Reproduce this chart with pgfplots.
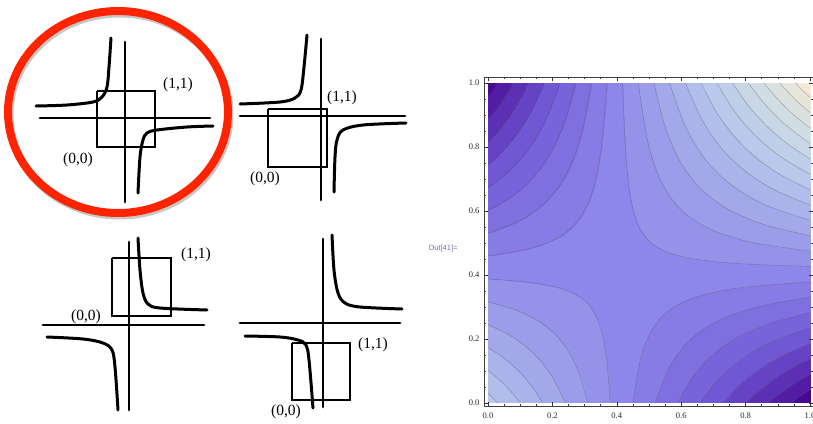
\documentclass[border=0pt]{standalone}
\usepackage{fontspec}
\setmainfont{Liberation Serif}
\setsansfont{Liberation Sans}
\usepackage{pgfplots}
\pgfplotsset{compat=1.18}
\definecolor{circred}{RGB}{255,36,0}
\definecolor{outcol}{RGB}{105,112,175}
\tikzset{
  sk/.style={black, line width=2.8pt, line cap=round, mark=none},
  sq/.style={black, line width=2.5pt, line join=miter, mark=none},
  hy/.style={black, line width=3pt, line cap=round, smooth, tension=0.55, mark=none},
  lab/.style={font=\fontsize{15.5}{17}\selectfont, inner sep=0pt},
  cl/.style={draw=black!70, draw opacity=0.35, line width=0.6pt, smooth, tension=0.5, mark=none, fill=none}}
\pgfplotsset{table/clt/.style={x index=0, y index=1, z index=1, header=false, row sep=\\}}
\begin{document}
\begin{tikzpicture}
\useasboundingbox (0,0) rectangle (813pt,423pt);
% ---------------- hand sketches ----------------
\begin{axis}[at={(0pt,0pt)}, anchor=south west, scale only axis,
  width=813pt, height=423pt, xmin=0, xmax=813, ymin=0, ymax=423,
  y dir=reverse, hide axis, clip=false]
% sketch 1 (top left)
\addplot[sk] coordinates {(125,42) (125,202)};
\addplot[sk] coordinates {(40,118) (210,118)};
\addplot[sq] coordinates {(97,91) (155,91) (155,147) (97,147) (97,91)};
\addplot[hy] coordinates {(36,106) (67,105) (93,102) (102,97) (107,87) (109,67) (111,38)};
\addplot[hy] coordinates {(213,126) (187,127) (157,130) (147,133) (143,140) (140,157) (138,193)};
\node[lab] at (axis cs:178,85) {(1,1)};
\node[lab] at (axis cs:78,160) {(0,0)};
% sketch 2 (top right)
\addplot[sk] coordinates {(321,39) (321,200)};
\addplot[sk] coordinates {(240,116) (405,116)};
\addplot[sq] coordinates {(268,109) (327,109) (327,167) (268,167) (268,109)};
\addplot[hy] coordinates {(240,104) (280,102) (295,98) (301,90) (304,67) (307,35)};
\addplot[hy] coordinates {(406,123) (363,125) (343,130) (337,140) (335,157) (334,192)};
\node[lab] at (axis cs:342,98) {(1,1)};
\node[lab] at (axis cs:265,179) {(0,0)};
% sketch 3 (bottom left)
\addplot[sk] coordinates {(129,242) (129,410)};
\addplot[sk] coordinates {(43,325) (204,325)};
\addplot[sq] coordinates {(112,258) (171,258) (171,316) (112,316) (112,258)};
\addplot[hy] coordinates {(138,238) (140,270) (143,293) (148,304) (160,308) (207,310)};
\addplot[hy] coordinates {(47,337) (83,339) (103,343) (112,350) (115,367) (118,410)};
\node[lab] at (axis cs:196,255) {(1,1)};
\node[lab] at (axis cs:86,317) {(0,0)};
% sketch 4 (bottom right)
\addplot[sk] coordinates {(323,239) (323,407)};
\addplot[sk] coordinates {(240,323) (400,323)};
\addplot[sq] coordinates {(292,343) (350,343) (350,400) (292,400) (292,343)};
\addplot[hy] coordinates {(332,235) (334,270) (338,293) (345,303) (360,307) (402,309)};
\addplot[hy] coordinates {(245,336) (280,337) (298,340) (306,345) (309,360) (313,408)};
\node[lab] at (axis cs:373,345) {(1,1)};
\node[lab] at (axis cs:286,412) {(0,0)};
% red circle
\draw[black, opacity=0.22, line width=8pt] (axis cs:119.5,114.5) ellipse [x radius=110pt, y radius=101pt];
\draw[circred, line width=8pt] (axis cs:118,112) ellipse [x radius=110pt, y radius=101pt];
\node[font=\sffamily\fontsize{7.5}{8}\selectfont, text=outcol, inner sep=0pt] at (axis cs:443,249) {Out[41]=};
\end{axis}
% ---------------- contour plot ----------------
\begin{axis}[at={(484pt,17pt)}, anchor=south west, scale only axis,
  width=329pt, height=329pt,
  xmin=-0.0124, xmax=1.0093, ymin=-0.0094, ymax=1.0188,
  view={0}{90}, axis on top,
  colormap={mma}{rgb255(0)=(72,8,150); rgb255(42)=(112,88,212); rgb255(83)=(142,135,235);
    rgb255(114)=(162,168,233); rgb255(146)=(185,200,235); rgb255(177)=(208,222,228); rgb255(208)=(242,232,212)},
  point meta min=0, point meta max=20.8,
  xtick={0,0.2,0.4,0.6,0.8,1}, ytick={0,0.2,0.4,0.6,0.8,1},
  minor tick num=3,
  major tick length=4pt, minor tick length=2.3pt,
  axis line style={black!75, line width=0.6pt},
  tick style={black!80, line width=0.5pt},
  tick label style={font=\fontsize{8.5}{9}\selectfont, text=black!85},
  /pgf/number format/assume math mode=true,
  xticklabel style={yshift=-3pt, /pgf/number format/.cd, fixed, fixed zerofill, precision=1},
  yticklabel style={xshift=-1pt, /pgf/number format/.cd, fixed, fixed zerofill, precision=1},
  xtick pos=both, ytick pos=both,
  xticklabel pos=lower, yticklabel pos=left,
  ztick=\empty]
\addplot3[contour filled={levels={0.87,1.87,2.87,3.87,4.87,5.87,6.87,7.87,8.87,9.87,10.87,11.87,12.87,13.87,14.87,15.87,16.87,17.87,18.87,19.87}},
  mesh/rows=21, mesh/cols=21] coordinates {
(0,0,14.3) (0.05,0,13.585) (0.1,0,12.87) (0.15,0,12.155) (0.2,0,11.44) (0.25,0,10.725) (0.3,0,10.01) (0.35,0,9.295) (0.4,0,8.58) (0.45,0,7.865) (0.5,0,7.15) (0.55,0,6.435) (0.6,0,5.72) (0.65,0,5.005) (0.7,0,4.29) (0.75,0,3.575) (0.8,0,2.86) (0.85,0,2.145) (0.9,0,1.43) (0.95,0,0.715) (1,0,0)
(0,0.05,13.6) (0.05,0.05,12.972) (0.1,0.05,12.344) (0.15,0.05,11.716) (0.2,0.05,11.088) (0.25,0.05,10.46) (0.3,0.05,9.832) (0.35,0.05,9.204) (0.4,0.05,8.576) (0.45,0.05,7.948) (0.5,0.05,7.32) (0.55,0.05,6.692) (0.6,0.05,6.064) (0.65,0.05,5.436) (0.7,0.05,4.808) (0.75,0.05,4.18) (0.8,0.05,3.552) (0.85,0.05,2.924) (0.9,0.05,2.296) (0.95,0.05,1.668) (1,0.05,1.04)
(0,0.1,12.9) (0.05,0.1,12.359) (0.1,0.1,11.818) (0.15,0.1,11.277) (0.2,0.1,10.736) (0.25,0.1,10.195) (0.3,0.1,9.654) (0.35,0.1,9.113) (0.4,0.1,8.572) (0.45,0.1,8.031) (0.5,0.1,7.49) (0.55,0.1,6.949) (0.6,0.1,6.408) (0.65,0.1,5.867) (0.7,0.1,5.326) (0.75,0.1,4.785) (0.8,0.1,4.244) (0.85,0.1,3.703) (0.9,0.1,3.162) (0.95,0.1,2.621) (1,0.1,2.08)
(0,0.15,12.2) (0.05,0.15,11.746) (0.1,0.15,11.292) (0.15,0.15,10.838) (0.2,0.15,10.384) (0.25,0.15,9.93) (0.3,0.15,9.476) (0.35,0.15,9.022) (0.4,0.15,8.568) (0.45,0.15,8.114) (0.5,0.15,7.66) (0.55,0.15,7.206) (0.6,0.15,6.752) (0.65,0.15,6.298) (0.7,0.15,5.844) (0.75,0.15,5.39) (0.8,0.15,4.936) (0.85,0.15,4.482) (0.9,0.15,4.028) (0.95,0.15,3.574) (1,0.15,3.12)
(0,0.2,11.5) (0.05,0.2,11.133) (0.1,0.2,10.766) (0.15,0.2,10.399) (0.2,0.2,10.032) (0.25,0.2,9.665) (0.3,0.2,9.298) (0.35,0.2,8.931) (0.4,0.2,8.564) (0.45,0.2,8.197) (0.5,0.2,7.83) (0.55,0.2,7.463) (0.6,0.2,7.096) (0.65,0.2,6.729) (0.7,0.2,6.362) (0.75,0.2,5.995) (0.8,0.2,5.628) (0.85,0.2,5.261) (0.9,0.2,4.894) (0.95,0.2,4.527) (1,0.2,4.16)
(0,0.25,10.8) (0.05,0.25,10.52) (0.1,0.25,10.24) (0.15,0.25,9.96) (0.2,0.25,9.68) (0.25,0.25,9.4) (0.3,0.25,9.12) (0.35,0.25,8.84) (0.4,0.25,8.56) (0.45,0.25,8.28) (0.5,0.25,8.0) (0.55,0.25,7.72) (0.6,0.25,7.44) (0.65,0.25,7.16) (0.7,0.25,6.88) (0.75,0.25,6.6) (0.8,0.25,6.32) (0.85,0.25,6.04) (0.9,0.25,5.76) (0.95,0.25,5.48) (1,0.25,5.2)
(0,0.3,10.1) (0.05,0.3,9.907) (0.1,0.3,9.714) (0.15,0.3,9.521) (0.2,0.3,9.328) (0.25,0.3,9.135) (0.3,0.3,8.942) (0.35,0.3,8.749) (0.4,0.3,8.556) (0.45,0.3,8.363) (0.5,0.3,8.17) (0.55,0.3,7.977) (0.6,0.3,7.784) (0.65,0.3,7.591) (0.7,0.3,7.398) (0.75,0.3,7.205) (0.8,0.3,7.012) (0.85,0.3,6.819) (0.9,0.3,6.626) (0.95,0.3,6.433) (1,0.3,6.24)
(0,0.35,9.4) (0.05,0.35,9.294) (0.1,0.35,9.188) (0.15,0.35,9.082) (0.2,0.35,8.976) (0.25,0.35,8.87) (0.3,0.35,8.764) (0.35,0.35,8.658) (0.4,0.35,8.552) (0.45,0.35,8.446) (0.5,0.35,8.34) (0.55,0.35,8.234) (0.6,0.35,8.128) (0.65,0.35,8.022) (0.7,0.35,7.916) (0.75,0.35,7.81) (0.8,0.35,7.704) (0.85,0.35,7.598) (0.9,0.35,7.492) (0.95,0.35,7.386) (1,0.35,7.28)
(0,0.4,8.7) (0.05,0.4,8.681) (0.1,0.4,8.662) (0.15,0.4,8.643) (0.2,0.4,8.624) (0.25,0.4,8.605) (0.3,0.4,8.586) (0.35,0.4,8.567) (0.4,0.4,8.548) (0.45,0.4,8.529) (0.5,0.4,8.51) (0.55,0.4,8.491) (0.6,0.4,8.472) (0.65,0.4,8.453) (0.7,0.4,8.434) (0.75,0.4,8.415) (0.8,0.4,8.396) (0.85,0.4,8.377) (0.9,0.4,8.358) (0.95,0.4,8.339) (1,0.4,8.32)
(0,0.45,8.0) (0.05,0.45,8.068) (0.1,0.45,8.136) (0.15,0.45,8.204) (0.2,0.45,8.272) (0.25,0.45,8.34) (0.3,0.45,8.408) (0.35,0.45,8.476) (0.4,0.45,8.544) (0.45,0.45,8.612) (0.5,0.45,8.68) (0.55,0.45,8.748) (0.6,0.45,8.816) (0.65,0.45,8.884) (0.7,0.45,8.952) (0.75,0.45,9.02) (0.8,0.45,9.088) (0.85,0.45,9.156) (0.9,0.45,9.224) (0.95,0.45,9.292) (1,0.45,9.36)
(0,0.5,7.3) (0.05,0.5,7.455) (0.1,0.5,7.61) (0.15,0.5,7.765) (0.2,0.5,7.92) (0.25,0.5,8.075) (0.3,0.5,8.23) (0.35,0.5,8.385) (0.4,0.5,8.54) (0.45,0.5,8.695) (0.5,0.5,8.85) (0.55,0.5,9.005) (0.6,0.5,9.16) (0.65,0.5,9.315) (0.7,0.5,9.47) (0.75,0.5,9.625) (0.8,0.5,9.78) (0.85,0.5,9.935) (0.9,0.5,10.09) (0.95,0.5,10.245) (1,0.5,10.4)
(0,0.55,6.6) (0.05,0.55,6.842) (0.1,0.55,7.084) (0.15,0.55,7.326) (0.2,0.55,7.568) (0.25,0.55,7.81) (0.3,0.55,8.052) (0.35,0.55,8.294) (0.4,0.55,8.536) (0.45,0.55,8.778) (0.5,0.55,9.02) (0.55,0.55,9.262) (0.6,0.55,9.504) (0.65,0.55,9.746) (0.7,0.55,9.988) (0.75,0.55,10.23) (0.8,0.55,10.472) (0.85,0.55,10.714) (0.9,0.55,10.956) (0.95,0.55,11.198) (1,0.55,11.44)
(0,0.6,5.9) (0.05,0.6,6.229) (0.1,0.6,6.558) (0.15,0.6,6.887) (0.2,0.6,7.216) (0.25,0.6,7.545) (0.3,0.6,7.874) (0.35,0.6,8.203) (0.4,0.6,8.532) (0.45,0.6,8.861) (0.5,0.6,9.19) (0.55,0.6,9.519) (0.6,0.6,9.848) (0.65,0.6,10.177) (0.7,0.6,10.506) (0.75,0.6,10.835) (0.8,0.6,11.164) (0.85,0.6,11.493) (0.9,0.6,11.822) (0.95,0.6,12.151) (1,0.6,12.48)
(0,0.65,5.2) (0.05,0.65,5.616) (0.1,0.65,6.032) (0.15,0.65,6.448) (0.2,0.65,6.864) (0.25,0.65,7.28) (0.3,0.65,7.696) (0.35,0.65,8.112) (0.4,0.65,8.528) (0.45,0.65,8.944) (0.5,0.65,9.36) (0.55,0.65,9.776) (0.6,0.65,10.192) (0.65,0.65,10.608) (0.7,0.65,11.024) (0.75,0.65,11.44) (0.8,0.65,11.856) (0.85,0.65,12.272) (0.9,0.65,12.688) (0.95,0.65,13.104) (1,0.65,13.52)
(0,0.7,4.5) (0.05,0.7,5.003) (0.1,0.7,5.506) (0.15,0.7,6.009) (0.2,0.7,6.512) (0.25,0.7,7.015) (0.3,0.7,7.518) (0.35,0.7,8.021) (0.4,0.7,8.524) (0.45,0.7,9.027) (0.5,0.7,9.53) (0.55,0.7,10.033) (0.6,0.7,10.536) (0.65,0.7,11.039) (0.7,0.7,11.542) (0.75,0.7,12.045) (0.8,0.7,12.548) (0.85,0.7,13.051) (0.9,0.7,13.554) (0.95,0.7,14.057) (1,0.7,14.56)
(0,0.75,3.8) (0.05,0.75,4.39) (0.1,0.75,4.98) (0.15,0.75,5.57) (0.2,0.75,6.16) (0.25,0.75,6.75) (0.3,0.75,7.34) (0.35,0.75,7.93) (0.4,0.75,8.52) (0.45,0.75,9.11) (0.5,0.75,9.7) (0.55,0.75,10.29) (0.6,0.75,10.88) (0.65,0.75,11.47) (0.7,0.75,12.06) (0.75,0.75,12.65) (0.8,0.75,13.24) (0.85,0.75,13.83) (0.9,0.75,14.42) (0.95,0.75,15.01) (1,0.75,15.6)
(0,0.8,3.1) (0.05,0.8,3.777) (0.1,0.8,4.454) (0.15,0.8,5.131) (0.2,0.8,5.808) (0.25,0.8,6.485) (0.3,0.8,7.162) (0.35,0.8,7.839) (0.4,0.8,8.516) (0.45,0.8,9.193) (0.5,0.8,9.87) (0.55,0.8,10.547) (0.6,0.8,11.224) (0.65,0.8,11.901) (0.7,0.8,12.578) (0.75,0.8,13.255) (0.8,0.8,13.932) (0.85,0.8,14.609) (0.9,0.8,15.286) (0.95,0.8,15.963) (1,0.8,16.64)
(0,0.85,2.4) (0.05,0.85,3.164) (0.1,0.85,3.928) (0.15,0.85,4.692) (0.2,0.85,5.456) (0.25,0.85,6.22) (0.3,0.85,6.984) (0.35,0.85,7.748) (0.4,0.85,8.512) (0.45,0.85,9.276) (0.5,0.85,10.04) (0.55,0.85,10.804) (0.6,0.85,11.568) (0.65,0.85,12.332) (0.7,0.85,13.096) (0.75,0.85,13.86) (0.8,0.85,14.624) (0.85,0.85,15.388) (0.9,0.85,16.152) (0.95,0.85,16.916) (1,0.85,17.68)
(0,0.9,1.7) (0.05,0.9,2.551) (0.1,0.9,3.402) (0.15,0.9,4.253) (0.2,0.9,5.104) (0.25,0.9,5.955) (0.3,0.9,6.806) (0.35,0.9,7.657) (0.4,0.9,8.508) (0.45,0.9,9.359) (0.5,0.9,10.21) (0.55,0.9,11.061) (0.6,0.9,11.912) (0.65,0.9,12.763) (0.7,0.9,13.614) (0.75,0.9,14.465) (0.8,0.9,15.316) (0.85,0.9,16.167) (0.9,0.9,17.018) (0.95,0.9,17.869) (1,0.9,18.72)
(0,0.95,1.0) (0.05,0.95,1.938) (0.1,0.95,2.876) (0.15,0.95,3.814) (0.2,0.95,4.752) (0.25,0.95,5.69) (0.3,0.95,6.628) (0.35,0.95,7.566) (0.4,0.95,8.504) (0.45,0.95,9.442) (0.5,0.95,10.38) (0.55,0.95,11.318) (0.6,0.95,12.256) (0.65,0.95,13.194) (0.7,0.95,14.132) (0.75,0.95,15.07) (0.8,0.95,16.008) (0.85,0.95,16.946) (0.9,0.95,17.884) (0.95,0.95,18.822) (1,0.95,19.76)
(0,1,0.3) (0.05,1,1.325) (0.1,1,2.35) (0.15,1,3.375) (0.2,1,4.4) (0.25,1,5.425) (0.3,1,6.45) (0.35,1,7.475) (0.4,1,8.5) (0.45,1,9.525) (0.5,1,10.55) (0.55,1,11.575) (0.6,1,12.6) (0.65,1,13.625) (0.7,1,14.65) (0.75,1,15.675) (0.8,1,16.7) (0.85,1,17.725) (0.9,1,18.75) (0.95,1,19.775) (1,1,20.8)
};
% contour lines (level curves)
\addplot3[cl] table[clt] {0.0278 1.0\\ 0.0139 0.9789\\ 0 0.9593\\};
\addplot3[cl] table[clt] {0.9392 0\\ 0.9688 0.0215\\ 1.0 0.0418\\};
\addplot3[cl] table[clt] {0.0766 1.0\\ 0.0528 0.9599\\ 0.0273 0.9226\\ 0 0.8878\\};
\addplot3[cl] table[clt] {0.8692 0\\ 0.9093 0.0325\\ 0.9528 0.0624\\ 1.0 0.0899\\};
\addplot3[cl] table[clt] {0.1254 1.0\\ 0.0983 0.9475\\ 0.0685 0.8996\\ 0.0358 0.8560\\ 0 0.8164\\};
\addplot3[cl] table[clt] {0.7993 0\\ 0.8421 0.0400\\ 0.8895 0.0760\\ 0.9419 0.1086\\ 1.0 0.1380\\};
\addplot3[cl] table[clt] {0.1742 1.0\\ 0.1394 0.9221\\ 0.0993 0.8545\\ 0.0532 0.7958\\ 0 0.7450\\};
\addplot3[cl] table[clt] {0.7294 0\\ 0.7826 0.0575\\ 0.8445 0.1070\\ 0.9164 0.1495\\ 1.0 0.1860\\};
\addplot3[cl] table[clt] {0.2229 1.0\\ 0.1915 0.9121\\ 0.1545 0.8374\\ 0.1111 0.7738\\ 0.0600 0.7196\\ 0 0.6736\\};
\addplot3[cl] table[clt] {0.6595 0\\ 0.7067 0.0638\\ 0.7627 0.1177\\ 0.8289 0.1632\\ 0.9074 0.2017\\ 1.0 0.2341\\};
\addplot3[cl] table[clt] {0.2717 1.0\\ 0.2387 0.8813\\ 0.1974 0.7864\\ 0.1457 0.7107\\ 0.0809 0.6503\\ 0 0.6021\\};
\addplot3[cl] table[clt] {0.5895 0\\ 0.6384 0.0851\\ 0.7001 0.1525\\ 0.7778 0.2060\\ 0.8758 0.2484\\ 1.0 0.2822\\};
\addplot3[cl] table[clt] {0.3205 1.0\\ 0.2957 0.8628\\ 0.2633 0.7576\\ 0.2211 0.6768\\ 0.1661 0.6149\\ 0.0944 0.5674\\ 0 0.5307\\};
\addplot3[cl] table[clt] {0.5196 0\\ 0.5562 0.0977\\ 0.6042 0.1722\\ 0.6671 0.2289\\ 0.7497 0.2722\\ 0.8581 0.3052\\ 1.0 0.3303\\};
\addplot3[cl] table[clt] {0.3693 1.0\\ 0.3522 0.7993\\ 0.3263 0.6670\\ 0.2870 0.5797\\ 0.2274 0.5222\\ 0.1370 0.4843\\ 0 0.4593\\};
\addplot3[cl] table[clt] {0.4497 0\\ 0.4746 0.1416\\ 0.5125 0.2343\\ 0.5704 0.2952\\ 0.6588 0.3350\\ 0.7936 0.3612\\ 1.0 0.3783\\};
\addplot3[cl] table[clt] {0.4181 1.0\\ 0.4271 0.7848\\ 0.4414 0.6483\\ 0.4639 0.5616\\ 0.4993 0.5065\\ 0.5552 0.4716\\ 0.6431 0.4494\\ 0.7817 0.4354\\ 1.0 0.4264\\};
\addplot3[cl] table[clt] {0.3797 0\\ 0.3699 0.1242\\ 0.3559 0.2109\\ 0.3358 0.2714\\ 0.3070 0.3135\\ 0.2657 0.3430\\ 0.2065 0.3635\\ 0.1216 0.3778\\ 0 0.3878\\};
\addplot3[cl] table[clt] {0.4668 1.0\\ 0.4958 0.8174\\ 0.5378 0.6914\\ 0.5986 0.6045\\ 0.6868 0.5445\\ 0.8146 0.5031\\ 1.0 0.4745\\};
\addplot3[cl] table[clt] {0.3098 0\\ 0.2841 0.0893\\ 0.2513 0.1592\\ 0.2094 0.2139\\ 0.1558 0.2567\\ 0.0874 0.2902\\ 0 0.3164\\};
\addplot3[cl] table[clt] {0.5156 1.0\\ 0.5518 0.8574\\ 0.5996 0.7493\\ 0.6626 0.6674\\ 0.7457 0.6053\\ 0.8554 0.5582\\ 1.0 0.5226\\};
\addplot3[cl] table[clt] {0.2399 0\\ 0.2075 0.0682\\ 0.1688 0.1250\\ 0.1224 0.1725\\ 0.0667 0.2120\\ 0 0.2450\\};
\addplot3[cl] table[clt] {0.5644 1.0\\ 0.6127 0.8647\\ 0.6755 0.7604\\ 0.7570 0.6801\\ 0.8627 0.6183\\ 1.0 0.5707\\};
\addplot3[cl] table[clt] {0.1699 0\\ 0.1357 0.0527\\ 0.0965 0.0986\\ 0.0515 0.1387\\ 0 0.1735\\};
\addplot3[cl] table[clt] {0.6132 1.0\\ 0.6620 0.8892\\ 0.7222 0.7992\\ 0.7963 0.7262\\ 0.8876 0.6669\\ 1.0 0.6187\\};
\addplot3[cl] table[clt] {0.1000 0\\ 0.0698 0.0374\\ 0.0365 0.0713\\ 0 0.1021\\};
\addplot3[cl] table[clt] {0.6620 1.0\\ 0.7091 0.9095\\ 0.7648 0.8329\\ 0.8306 0.7681\\ 0.9083 0.7132\\ 1.0 0.6668\\};
\addplot3[cl] table[clt] {0.0300 0\\ 0.0153 0.0156\\ 0 0.0307\\};
\addplot3[cl] table[clt] {0.7107 1.0\\ 0.7662 0.9102\\ 0.8317 0.8341\\ 0.9089 0.7695\\ 1.0 0.7149\\};
\addplot3[cl] table[clt] {0.7595 1.0\\ 0.8086 0.9289\\ 0.8643 0.8664\\ 0.9278 0.8114\\ 1.0 0.7630\\};
\addplot3[cl] table[clt] {0.8083 1.0\\ 0.8641 0.9288\\ 0.9276 0.8662\\ 1.0 0.8111\\};
\addplot3[cl] table[clt] {0.8571 1.0\\ 0.9005 0.9487\\ 0.9480 0.9019\\ 1.0 0.8591\\};
\addplot3[cl] table[clt] {0.9059 1.0\\ 0.9509 0.9516\\ 1.0 0.9072\\};
\addplot3[cl] table[clt] {0.9546 1.0\\ 0.9769 0.9772\\ 1.0 0.9553\\};
\end{axis}
\end{tikzpicture}
\end{document}
